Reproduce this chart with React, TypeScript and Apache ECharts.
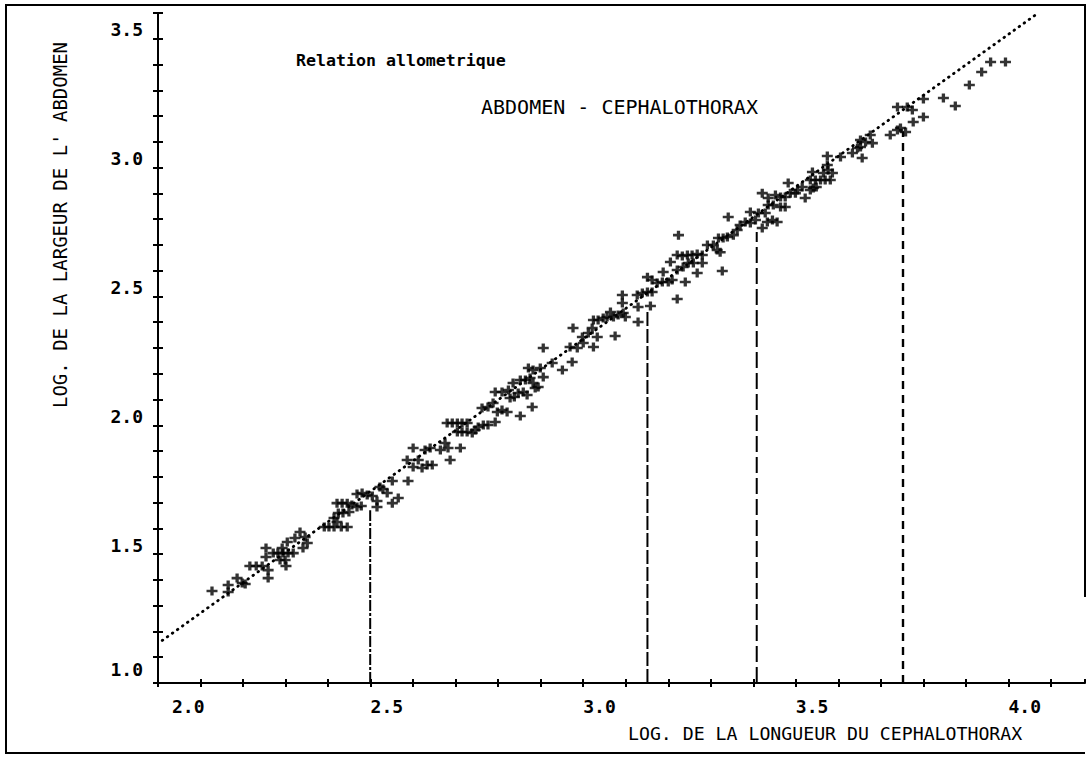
import React, { useEffect, useRef } from "react";
import * as echarts from "echarts";

// log(cephalothorax length), log(abdomen width)
const measurements: [number, number][] = [
  [2.127,1.357],[2.165,1.380],[2.165,1.353],[2.186,1.407],[2.198,1.388],[2.205,1.384],
  [2.216,1.454],[2.231,1.454],[2.245,1.454],[2.254,1.524],[2.254,1.489],[2.259,1.438],[2.259,1.407],
  [2.271,1.504],[2.282,1.504],[2.294,1.504],[2.306,1.504],[2.318,1.504],[2.287,1.477],[2.299,1.477],
  [2.292,1.524],[2.304,1.547],[2.301,1.454],
  [2.322,1.563],[2.334,1.586],[2.346,1.567],[2.351,1.543],[2.341,1.524],
  [2.391,1.605],[2.402,1.605],[2.414,1.605],[2.421,1.625],[2.431,1.605],[2.445,1.605],
  [2.414,1.640],[2.424,1.660],[2.435,1.660],[2.449,1.664],
  [2.421,1.698],[2.433,1.698],[2.445,1.698],[2.456,1.691],[2.468,1.683],[2.478,1.687],
  [2.468,1.733],[2.480,1.737],[2.492,1.730],[2.504,1.726],[2.515,1.706],[2.515,1.683],
  [2.529,1.753],[2.539,1.737],[2.551,1.698],[2.565,1.718],[2.522,1.761],
  [2.551,1.784],[2.588,1.784],
  [2.586,1.865],[2.600,1.838],[2.612,1.865],[2.621,1.834],[2.633,1.846],[2.645,1.846],
  [2.600,1.912],[2.628,1.904],[2.640,1.912],[2.664,1.904],[2.675,1.931],[2.682,1.912],[2.687,1.865],[2.711,1.912],
  [2.680,2.009],[2.692,2.009],[2.704,2.009],[2.715,2.009],[2.727,2.009],
  [2.704,1.974],[2.715,1.974],[2.727,1.974],[2.739,1.970],[2.746,1.982],[2.753,1.993],[2.765,2.001],[2.776,2.001],[2.793,2.013],
  [2.762,2.067],[2.776,2.071],[2.788,2.087],[2.798,2.052],[2.809,2.059],[2.821,2.052],
  [2.852,2.036],[2.880,2.071],
  [2.793,2.129],[2.809,2.129],[2.824,2.137],[2.828,2.106],[2.838,2.110],[2.847,2.125],[2.859,2.129],[2.868,2.118],
  [2.835,2.164],[2.852,2.176],[2.864,2.176],[2.875,2.184],[2.882,2.164],[2.887,2.145],[2.894,2.149],
  [2.871,2.222],[2.882,2.215],[2.899,2.222],[2.906,2.187],
  [2.906,2.300],
  [2.927,2.242],[2.951,2.215],[2.974,2.246],
  [2.976,2.378],
  [2.969,2.304],[2.986,2.300],[2.998,2.343],[3.000,2.319],[3.012,2.358],[3.021,2.378],[3.024,2.304],[3.033,2.343],
  [3.075,2.347],
  [3.024,2.409],[3.035,2.409],[3.047,2.416],[3.056,2.420],[3.064,2.440],[3.071,2.420],[3.082,2.428],[3.094,2.436],[3.099,2.420],
  [3.129,2.401],
  [3.092,2.506],[3.092,2.475],[3.127,2.506],[3.129,2.459],[3.139,2.513],[3.151,2.517],[3.158,2.463],[3.162,2.517],
  [3.151,2.575],[3.162,2.564],[3.174,2.552],[3.186,2.556],[3.200,2.556],[3.209,2.564],
  [3.188,2.595],[3.205,2.634],[3.221,2.603],[3.235,2.614],[3.247,2.630],[3.259,2.630],[3.280,2.630],
  [3.240,2.556],[3.268,2.591],
  [3.221,2.490],[3.327,2.599],
  [3.224,2.738],
  [3.221,2.661],[3.233,2.657],[3.245,2.661],[3.256,2.661],[3.268,2.665],[3.280,2.661],
  [3.292,2.700],[3.306,2.700],[3.315,2.680],[3.322,2.672],[3.318,2.727],[3.329,2.727],[3.339,2.731],[3.353,2.738],[3.362,2.758],[3.369,2.777],[3.381,2.789],[3.393,2.785],[3.405,2.797],
  [3.341,2.808],[3.393,2.828],[3.412,2.824],
  [3.421,2.766],[3.433,2.789],[3.445,2.797],[3.456,2.789],
  [3.428,2.824],[3.435,2.855],[3.447,2.855],[3.464,2.847],[3.475,2.847],
  [3.421,2.901],[3.435,2.882],[3.452,2.894],[3.464,2.886],[3.475,2.886],[3.487,2.901],[3.499,2.901],[3.504,2.913],[3.515,2.925],[3.522,2.882],[3.534,2.913],[3.541,2.921],[3.548,2.925],
  [3.482,2.940],
  [3.534,2.952],[3.546,2.952],[3.558,2.952],[3.569,2.952],[3.581,2.952],
  [3.539,2.983],[3.565,2.979],[3.576,2.991],[3.586,2.979],
  [3.574,3.010],
  [3.574,3.045],[3.605,3.041],
  [3.633,3.057],[3.645,3.076],[3.652,3.080],[3.652,3.107],[3.656,3.037],[3.664,3.099],[3.680,3.095],
  [3.675,3.127],
  [3.722,3.127],[3.739,3.146],[3.746,3.154],[3.758,3.138],
  [3.739,3.235],[3.762,3.235],[3.774,3.224],
  [3.776,3.177],[3.800,3.196],
  [3.800,3.266],
  [3.847,3.270],[3.875,3.239],
  [3.908,3.321],
  [3.937,3.371],
  [3.958,3.410],[3.993,3.410],
];

// allometric fit line end points
const fitX = [2.01, 4.07];
const fitY = [1.165, 3.6];

// vertical drop lines
const dropX = [2.499, 3.151, 3.408, 3.752];
const dropTop = [1.67, 2.44, 2.75, 3.14];
const dropDash: number[][] = [[11, 2, 3, 2], [14, 3], [16, 5], [8, 6]];

const xMin = 2.0, xMax = 4.18, yMin = 1.0, yMax = 3.6, step = 0.1;

const FONT = "DejaVu Sans Mono";

const isMajor = (v: number) => {
  const t = v * 10;
  return Math.abs(t - Math.round(t)) < 1e-6 && Math.round(t) % 5 === 0;
};

export default function App() {
  const ref = useRef<HTMLDivElement>(null);
  useEffect(() => {
    if (!ref.current) return;
    const chart = echarts.init(ref.current, undefined, { renderer: "svg" });
    const axisLine = { show: true, lineStyle: { color: "#000", width: 2 } };
    const tickStyle = { color: "#000", width: 2 };
    const labelBase = { color: "#000", fontFamily: FONT, fontSize: 18, fontWeight: "bold" as const };
    const option: any = {
      animation: false,
      backgroundColor: "#fff",
      grid: { left: 158, right: 3, top: 13, bottom: 76 },
      xAxis: [
        {
          type: "value", min: xMin, max: xMax, interval: step, position: "bottom",
          axisLine, splitLine: { show: false },
          axisTick: { show: true, length: 4, lineStyle: tickStyle },
          axisLabel: {
            ...labelBase, margin: 14, align: "left", showMaxLabel: false,
            formatter: (v: number) => {
              if (!isMajor(v)) return "";
              const s = v.toFixed(1);
              return Math.abs(v - xMin) < 1e-6 ? "{o|" + s + "}" : s;
            },
            rich: { o: { ...labelBase, padding: [0, 0, 0, 14] } },
          },
        },
        {
          type: "value", min: xMin, max: xMax, interval: step, position: "bottom",
          axisLine: { show: false }, splitLine: { show: false }, axisLabel: { show: false },
          axisTick: { show: true, inside: true, length: 4, lineStyle: tickStyle },
        },
      ],
      yAxis: [
        {
          type: "value", min: yMin, max: yMax, interval: step, position: "left",
          axisLine, splitLine: { show: false },
          axisTick: { show: true, length: 5, lineStyle: tickStyle },
          axisLabel: {
            ...labelBase, margin: 15, verticalAlign: "bottom",
            formatter: (v: number) => {
              if (!isMajor(v)) return "";
              const s = v.toFixed(1);
              return Math.abs(v - yMin) < 1e-6 ? "{o|" + s + "}" : s;
            },
            rich: { o: { ...labelBase, padding: [0, 0, 5, 0] } },
          },
        },
        {
          type: "value", min: yMin, max: yMax, interval: step, position: "left",
          axisLine: { show: false }, splitLine: { show: false }, axisLabel: { show: false },
          axisTick: { show: true, inside: true, length: 5, lineStyle: tickStyle },
        },
      ],
      series: [
        {
          type: "line", xAxisIndex: 0, yAxisIndex: 0, symbol: "none", silent: true,
          data: fitX.map((x, i) => [x, fitY[i]]),
          lineStyle: { color: "#000", width: 2.8, type: [0.6, 5.6], cap: "round" },
        },
        ...dropX.map((x, i) => ({
          type: "line", xAxisIndex: 0, yAxisIndex: 0, symbol: "none", silent: true,
          data: [[x, yMin], [x, dropTop[i]]],
          lineStyle: { color: "#000", width: i === 3 ? 2.4 : 2, type: dropDash[i] },
        })),
        {
          type: "scatter", xAxisIndex: 0, yAxisIndex: 0, silent: true,
          symbol: "path://M0,3.6H10V6.4H0Z M3.5,0H6.5V10H3.5Z",
          symbolSize: [11, 9],
          itemStyle: { color: "#000" },
          data: measurements,
        },
      ],
      graphic: [
        {
          type: "polyline", silent: true,
          shape: { points: [[1085, 597], [1085, 5], [6, 5], [6, 753], [1085, 753]] },
          style: { stroke: "#000", lineWidth: 2, fill: "none" },
        },
        {
          type: "text", left: 296, top: 52, silent: true,
          style: { text: "Relation allometrique", fill: "#000", font: `bold 16.6px "${FONT}"` },
        },
        {
          type: "text", left: 481, top: 97, silent: true,
          style: { text: "ABDOMEN - CEPHALOTHORAX", fill: "#000", font: `20px "${FONT}"` },
        },
        {
          type: "text", left: 628, top: 724, silent: true,
          style: { text: "LOG. DE LA LONGUEUR DU CEPHALOTHORAX", fill: "#000", font: `18.2px "${FONT}"` },
        },
        {
          type: "text", x: 60, y: 225, rotation: Math.PI / 2, silent: true,
          style: {
            text: "LOG. DE LA LARGEUR DE L' ABDOMEN", fill: "#000", font: `19px "${FONT}"`,
            align: "center", verticalAlign: "middle",
          },
        },
      ],
    };
    chart.setOption(option);
    return () => chart.dispose();
  }, []);
  return (
    <div
      ref={ref}
      style={{ position: "fixed", left: 0, top: 0, width: 1088, height: 759, background: "#fff" }}
    />
  );
}
